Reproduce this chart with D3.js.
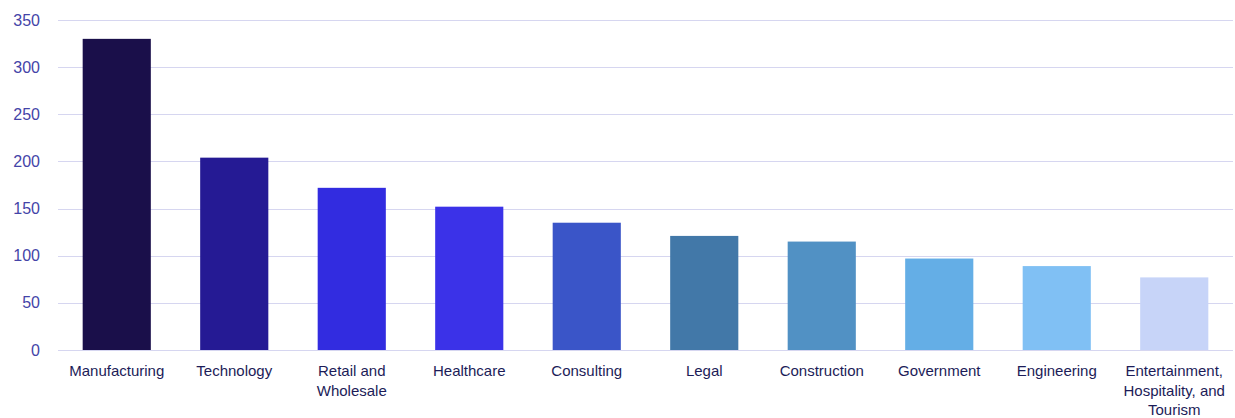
<!DOCTYPE html>
<html><head><meta charset="utf-8">
<script src="https://cdn.jsdelivr.net/npm/d3@7"></script>
<style>body{margin:0;background:#fff}svg{display:block}</style>
</head><body><svg id="c" width="1235" height="418"></svg>
<script>
const categories = ["Manufacturing","Technology","Retail and Wholesale","Healthcare","Consulting","Legal","Construction","Government","Engineering","Entertainment, Hospitality, and Tourism"];
const labelLines = [["Manufacturing"],["Technology"],["Retail and","Wholesale"],["Healthcare"],["Consulting"],["Legal"],["Construction"],["Government"],["Engineering"],["Entertainment,","Hospitality, and","Tourism"]];
const values = [330, 204, 172, 152, 135, 121, 115, 97, 89, 77];
const colors = ["#1a0f4a","#251a94","#322ce0","#3b32e8","#3a55c8","#4278a8","#5191c4","#64aee6","#80c0f4","#c7d4f8"];
const yTicks = [0,50,100,150,200,250,300,350];

const svg = d3.select("#c");
const m = {l:58, r:2, t:20, b:68};
const W = 1235, H = 418;
const x = d3.scaleBand().domain(categories).range([m.l, W-m.r]).paddingInner(0.42).paddingOuter(0.21);
const y = d3.scaleLinear().domain([0,350]).range([H-m.b, m.t]);
const font = "'Liberation Sans', Arial, sans-serif";

const grid = svg.append("g");
grid.selectAll("line").data(yTicks).join("line")
  .attr("x1", m.l).attr("x2", W-m.r)
  .attr("y1", d=>Math.round(y(d))+0.5).attr("y2", d=>Math.round(y(d))+0.5)
  .attr("stroke", "#d6d6f0").attr("stroke-width", 1);

const yAxis = svg.append("g").attr("transform", `translate(${m.l},0)`)
  .call(d3.axisLeft(y).tickValues(yTicks).tickSize(0).tickPadding(18));
yAxis.select(".domain").remove();
yAxis.selectAll("text").attr("font-family", font).attr("font-size", 16).attr("fill", "#4444a8");

svg.append("g").selectAll("rect").data(values).join("rect")
  .attr("x", (d,i)=>x(categories[i])).attr("width", x.bandwidth())
  .attr("y", d=>y(d)).attr("height", d=>y(0)-y(d))
  .attr("fill", (d,i)=>colors[i]);

const xl = svg.append("g");
categories.forEach((c,i)=>{
  const t = xl.append("text").attr("x", x(c)+x.bandwidth()/2).attr("y", y(0)+26)
    .attr("text-anchor","middle").attr("font-family", font).attr("font-size", 15).attr("fill", "#1c1c58");
  labelLines[i].forEach((ln,j)=>t.append("tspan").attr("x", x(c)+x.bandwidth()/2).attr("dy", j?19.5:0).text(ln));
});
</script></body></html>
